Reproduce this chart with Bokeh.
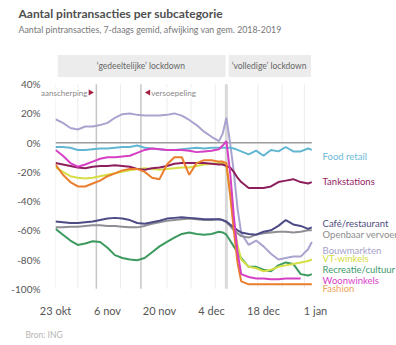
import math
from bokeh.plotting import figure
from bokeh.models import Range1d, FixedTicker, Label, LabelSet, ColumnDataSource
from bokeh.core.properties import value
from bokeh.embed import file_html
from bokeh.resources import INLINE

nan = float("nan")

# ---- data (days since 23 okt 2020, % deviation vs avg 2018-2019) ----
days = [0, 2, 4, 6, 8, 10, 12, 14, 16, 18, 20, 22, 24, 26, 28, 30, 32, 34, 36, 38,
        40, 42, 44, 45, 46, 47, 48, 49, 50, 52, 54, 56, 58, 60, 62, 64, 66, 68, 69]

bouwmarkten = [16, 13.5, 10, 9, 11, 11, 12, 13.5, 17, 19.5, 20, 19, 18.5, 18.5, 18.5, 19, 20, 18.5, 15.5, 12,
               7.5, 4, 1, 6, 17, 0, -20, -45, -62, -70, -67, -71, -76, -80, -79, -78, -78, -73, -68]
food_retail = [-3, -3, -3.5, -5, -5, -4.5, -4, -4, -3.5, -3, -3, -2, -3.5, -4, -4.5, -5, -5, -4.5, -4, -3.5,
               -4, -3.5, -3.5, -3.5, -3.5, -3.5, -4, -5, -6, -8, -5.5, -9, -5, -6, -3, -6, -6, -4, -5]
woonwinkels = [-5, -9, -14, -16.5, -15, -13, -11, -10, -10, -9.5, -9, -7, -5, -4, -4.5, -5, -5, -5, -5.5, -6.5,
               -6, -5.5, -4.5, -2, 1, -20, -50, -75, -90, -92, -93, -93, -93.5, -93.5, -93, -93, -93, nan, nan]
tankstations = [-14, -15, -16, -17, -17.5, -16.5, -16, -16, -15.5, -16, -16.5, -18, -18.5, -17.5, -17, -16, -14.5, -14, -14, -14,
                -14, -14.5, -15, -15, -16, -17, -20, -24, -27, -31, -31, -31, -30, -27, -26, -25, -27, -28, -27]
fashion = [-15, -22, -27, -30, -30, -28, -26, -23, -21, -19, -18, -18, -20, -24, -25, -15, -10, -10, -22, -14,
           -12, -12, -13, -13, -14, -35, -60, -82, -95, -97, -97, -97, -97, -97, -97, -97, -97, -97, -97]
vt_winkels = [-17, -20, -23, -24, -24.5, -24, -23, -22, -21, -20, -19, -18, -17.5, -18, -18.5, -18, -17.5, -17, -17, -16,
              -15, -14.5, -14, -14, -16, -35, -55, -70, -80, -85, -86, -88, -87, -85, -84, -83, -82, -81, -80]
recreatie = [-59, -63, -67, -70, -69, -67.5, -68, -72, -77, -79, -80, -80.5, -79, -75, -71, -68, -65, -62.5, -61.5, -62.5,
             -63, -62.5, -61, -61.5, -63, -67, -71, -75, -79, -85, -85, -87, -88, -84, -82, -83, -90, -91, -90]
cafe = [-54, -54.5, -55, -55, -54.5, -54, -53, -52, -51.5, -52, -53, -55, -55.5, -54.5, -53.5, -52, -51.5, -51, -51.5, -52,
        -52.5, -52.5, -52.5, -53, -54, -56, -58, -60, -61.5, -62.5, -63, -61, -60, -57, -53, -56, -57, -59, -58]
openbaar = [-58, -58, -57.5, -57.5, -57, -56.5, -56.5, -57, -57, -57.5, -58, -58, -57, -55.5, -54.5, -53.5, -53, -52.5, -52, -52.5,
            -53, -53, -52.5, -53, -54.5, -57, -60, -62, -64, -65, -63, -62, -61.5, -61, -61, -61.5, -61, -60, -60]

x_tick_days = [0, 14, 28, 42, 56, 70]
x_tick_labels = ["23 okt", "6 nov", "20 nov", "4 dec", "18 dec", "1 jan"]
y_ticks = [-100, -80, -60, -40, -20, 0, 20, 40]
y_tick_labels = ["-100%", "-80%", "-60%", "-40%", "-20%", "0%", "20%", "40%"]

grid_days = [0, 6, 17.5, 30, 36.5, 43, 54.5, 61, 67]
event_days = [11, 23]
event_names = ["aanscherping", "versoepeling"]
lockdown_start = [0, 46]
lockdown_end = [46, 69]
lockdown_names = ["\u2018gedeeltelijke\u2019 lockdown", "\u2018volledige\u2019 lockdown"]

series_names = ["Bouwmarkten", "Food retail", "Openbaar vervoer", "Café/restaurant", "Recreatie/cultuur",
                "VT-winkels", "Tankstations", "Fashion", "Woonwinkels"]
series_values = [bouwmarkten, food_retail, openbaar, cafe, recreatie, vt_winkels, tankstations, fashion, woonwinkels]
series_colors = ["#a9a4cf", "#63b6d2", "#8e8e95", "#4c4b86", "#3c9a5f", "#d5df45", "#8e1f5d", "#ea7e2c", "#d63fc4"]

legend_names = ["Food retail", "Tankstations", "Café/restaurant", "Openbaar vervoer", "Bouwmarkten",
                "VT-winkels", "Recreatie/cultuur", "Woonwinkels", "Fashion"]
legend_y = [-9.5, -26.6, -55.3, -62.9, -73.8, -79.3, -86.8, -94.4, -99.8]
legend_colors = ["#6bbad6", "#962464", "#4d4d7d", "#8c8c8c", "#a6a2cd", "#d2dd3c", "#3e9a6a", "#d83ec8", "#efa45c"]

FONT = "Lato"

p = figure(width=396, height=345, x_range=Range1d(0, 91.8), y_range=Range1d(-106, 61),
           output_backend="svg", toolbar_location=None,
           min_border_left=55, min_border_right=0, min_border_top=53, min_border_bottom=48)
p.outline_line_color = None
p.background_fill_color = "white"
p.border_fill_color = "white"
p.xgrid.visible = False
p.ygrid.visible = False

p.xaxis.ticker = FixedTicker(ticks=x_tick_days)
p.xaxis.major_label_overrides = {d: l for d, l in zip(x_tick_days, x_tick_labels)}
p.yaxis.ticker = FixedTicker(ticks=y_ticks)
p.yaxis.major_label_overrides = {v: l for v, l in zip(y_ticks, y_tick_labels)}
for ax, size, so in ((p.xaxis, "11px", 0), (p.yaxis, "10px", 9)):
    ax.axis_line_color = None
    ax.major_tick_line_color = None
    ax.minor_tick_line_color = None
    ax.major_label_standoff = so
    ax.major_label_text_font = FONT
    ax.major_label_text_font_size = size
    ax.major_label_text_color = "#555555"

# grid & reference lines
n = len(grid_days)
p.segment(x0=grid_days, y0=[-100] * n, x1=grid_days, y1=[40] * n, line_color="#ececec", line_width=1)
p.segment(x0=event_days, y0=[-100] * 2, x1=event_days, y1=[40] * 2, line_color="#c6c6c6", line_width=1.5)
p.segment(x0=[lockdown_start[1]], y0=[-100], x1=[lockdown_start[1]], y1=[40], line_color="#d9d9d9", line_width=3)
p.segment(x0=[0], y0=[0], x1=[days[-1]], y1=[0], line_color="#9c9c9c", line_width=1.5)

# lockdown header boxes
p.quad(left=[s + 0.6 for s in lockdown_start], right=[e - 0.2 for e in lockdown_end],
       bottom=[45, 45], top=[60, 60], fill_color="#ececec", line_color=None)
for s, e, name in zip(lockdown_start, lockdown_end, lockdown_names):
    p.add_layout(Label(x=(s + e) / 2, y=52.5, text=name, text_align="center", text_baseline="middle",
                       text_font=FONT, text_font_size="8.5px", text_color="#666666"))

# series
for vals, col in zip(series_values, series_colors):
    p.line(days, vals, line_color=col, line_width=2)

# event annotations
ev_y = 34.3
p.add_layout(Label(x=event_days[0] - 2.4, y=ev_y, text=event_names[0], text_align="right", text_baseline="middle",
                   text_font=FONT, text_font_size="8px", text_color="#888888", background_fill_color="white"), "above")
p.add_layout(Label(x=event_days[1] + 2.8, y=ev_y, text=event_names[1], text_align="left", text_baseline="middle",
                   text_font=FONT, text_font_size="8px", text_color="#888888", background_fill_color="white"))
p.scatter(x=[event_days[0] - 1.6], y=[ev_y], marker="triangle", angle=-math.pi / 2, size=6,
          fill_color="#a3203f", line_color=None)
p.scatter(x=[event_days[1] + 2.0], y=[ev_y], marker="triangle", angle=math.pi / 2, size=6,
          fill_color="#a3203f", line_color=None)

# right-hand legend labels
src = ColumnDataSource(dict(x=[71.9] * len(legend_names), y=legend_y, text=legend_names, color=legend_colors))
p.add_layout(LabelSet(x="x", y="y", text="text", source=src, text_color="color", text_baseline="middle",
                      text_font=value(FONT), text_font_size=value("9.5px")))

# titles & source (placed in side panels so they are not clipped by the frame)
p.add_layout(Label(x=-9.96, y=88.4, text="Aantal pintransacties per subcategorie", text_baseline="middle",
                   text_font=FONT, text_font_size="12px", text_font_style="bold", text_color="#505050"), "above")
p.add_layout(Label(x=-9.96, y=77.1, text="Aantal pintransacties, 7-daags gemid, afwijking van gem. 2018-2019",
                   text_baseline="middle", text_font=FONT, text_font_size="8.8px", text_color="#777777"), "above")
p.add_layout(Label(x=-8.1, y=-132.0, text="Bron: ING", text_baseline="middle",
                   text_font=FONT, text_font_size="8.5px", text_color="#b5b5b5"), "below")

open("out.html", "w").write(file_html(p, INLINE))
